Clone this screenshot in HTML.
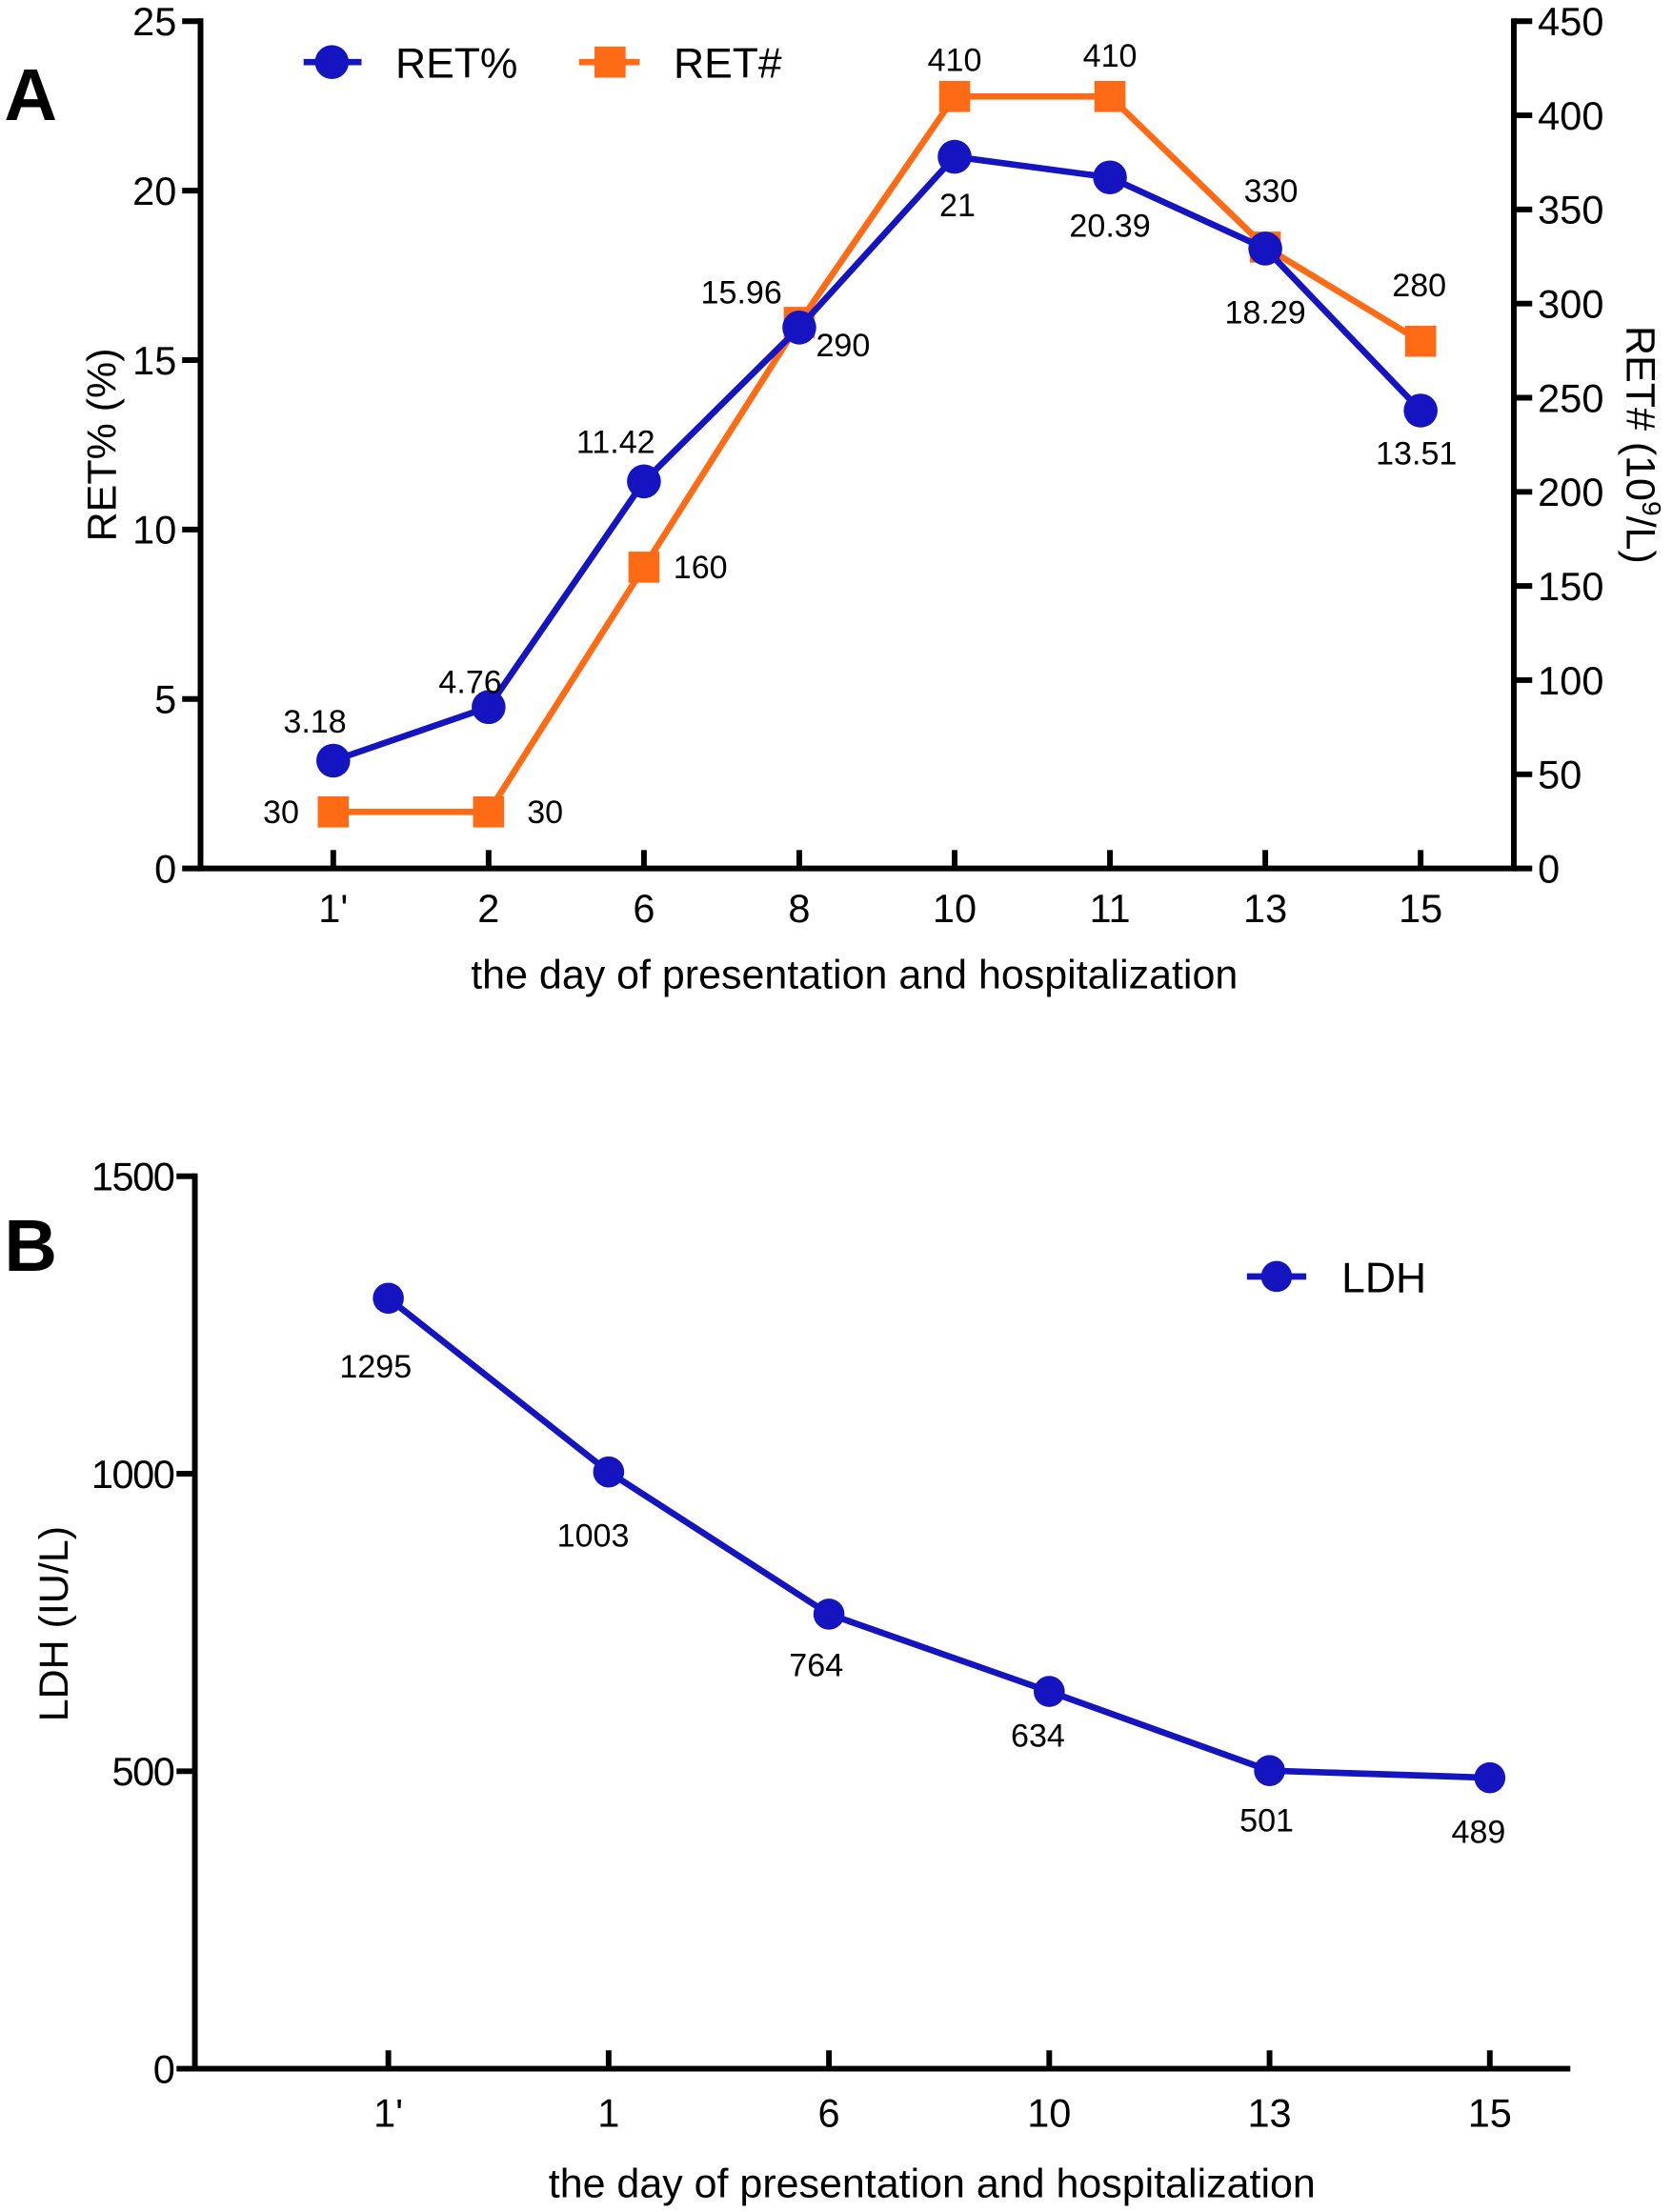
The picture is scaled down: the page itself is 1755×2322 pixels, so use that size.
<!DOCTYPE html>
<html><head><meta charset="utf-8"><style>
html,body{margin:0;padding:0;background:#fff;}
svg{display:block;font-family:"Liberation Sans",Arial,sans-serif;}
</style></head><body>
<svg id="fig" width="1755" height="2322" viewBox="0 0 1184 1566.5" preserveAspectRatio="none" xmlns="http://www.w3.org/2000/svg">
<g id="gA"></g>
<g id="gB"></g>
</svg>
<script>
// Panel A data
const catsA = ["1'", "2", "6", "8", "10", "11", "13", "15"];
const retPct = [3.18, 4.76, 11.42, 15.96, 21, 20.39, 18.29, 13.51];
const retAbs = [30, 30, 160, 290, 410, 410, 330, 280];
const leftTicksA = [0, 5, 10, 15, 20, 25];
const rightTicksA = [0, 50, 100, 150, 200, 250, 300, 350, 400, 450];
// Panel B data
const catsB = ["1'", "1", "6", "10", "13", "15"];
const ldh = [1295, 1003, 764, 634, 501, 489];
const ticksB = [0, 500, 1000, 1500];

const BLUE = "#1414c0", ORANGE = "#ff6a14";
const NS = "http://www.w3.org/2000/svg";
function mk(parent, tag, attrs, text) {
  const e = document.createElementNS(NS, tag);
  for (const k in attrs) e.setAttribute(k, attrs[k]);
  if (text !== undefined) e.textContent = text;
  parent.appendChild(e);
  return e;
}

// ---------- Panel A ----------
(function () {
  const g = document.getElementById('gA');
  const L = 142, R = 1072, Y0 = 615, YT = 15;
  const xA = i => 236 + i * 110;
  const yL = v => Y0 - (v / 25) * (Y0 - YT);
  const yR = v => Y0 - (v / 450) * (Y0 - YT);
  let e;
  e = mk(g, 'text', {x: 3, y: 85, 'font-size': 52, 'font-weight': 'bold'}, 'A');
  
  
  e = mk(g, 'path', {d: `M${L},${YT - 2} V${Y0} H${R} V${YT - 2}`, fill: 'none', stroke: '#000', 'stroke-width': 4});
  
  
  leftTicksA.forEach(v => {
    mk(g, 'line', {x1: L - 13, x2: L, y1: yL(v), y2: yL(v), stroke: '#000', 'stroke-width': 4});
    e = mk(g, 'text', {x: L - 17, y: yL(v) + 10, 'font-size': 28, 'text-anchor': 'end'}, v);
    
    
  });
  rightTicksA.forEach(v => {
    mk(g, 'line', {x1: R, x2: R + 13, y1: yR(v), y2: yR(v), stroke: '#000', 'stroke-width': 4});
    e = mk(g, 'text', {x: R + 17, y: yR(v) + 10, 'font-size': 28}, v);
    
    
  });
  catsA.forEach((c, i) => {
    mk(g, 'line', {x1: xA(i), x2: xA(i), y1: Y0 - 13, y2: Y0, stroke: '#000', 'stroke-width': 4});
    e = mk(g, 'text', {x: xA(i), y: 653, 'font-size': 28, 'text-anchor': 'middle'}, c);
    
    
  });
  e = mk(g, 'text', {x: 605, y: 700, 'font-size': 29, 'text-anchor': 'middle'}, 'the day of presentation and hospitalization');
  
  
  e = mk(g, 'text', {x: 0, y: 0, 'font-size': 29, 'text-anchor': 'middle', transform: 'translate(82,315) rotate(-90)'}, 'RET% (%)');
  
  
  e = mk(g, 'text', {x: 0, y: 0, 'font-size': 29, 'text-anchor': 'middle', transform: 'translate(1152,315) rotate(90)'});
  
  
  e.innerHTML = 'RET# (10<tspan font-size="19" dy="-11">9</tspan><tspan dy="11">/L)</tspan>';
  // orange series
  e = mk(g, 'polyline', {points: retAbs.map((v, i) => xA(i) + ',' + yR(v)).join(' '), fill: 'none', stroke: ORANGE, 'stroke-width': 4.5});
  
  
  retAbs.forEach((v, i) => {
    e = mk(g, 'rect', {x: xA(i) - 11, y: yR(v) - 11, width: 22, height: 22, fill: ORANGE});
    
    
  });
  // blue series
  e = mk(g, 'polyline', {points: retPct.map((v, i) => xA(i) + ',' + yL(v)).join(' '), fill: 'none', stroke: BLUE, 'stroke-width': 4.5});
  
  
  retPct.forEach((v, i) => {
    e = mk(g, 'circle', {cx: xA(i), cy: yL(v), r: 12, fill: BLUE});
    
    
  });
  const pctOff = [[-13, -20], [-13, -10], [-20, -20], [-41, -17], [2, 42], [0, 42], [0, 53], [-3, 38]];
  retPct.forEach((v, i) => {
    e = mk(g, 'text', {x: xA(i) + pctOff[i][0], y: yL(v) + pctOff[i][1], 'font-size': 23, 'text-anchor': 'middle'}, v);
    
    
  });
  const absOff = [[-37, 8], [40, 8], [40, 8], [31, 24], [0, -18], [0, -21], [4, -32], [-1, -32]];
  retAbs.forEach((v, i) => {
    e = mk(g, 'text', {x: xA(i) + absOff[i][0], y: yR(v) + absOff[i][1], 'font-size': 23, 'text-anchor': 'middle'}, v);
    
    
  });
  // legend
  mk(g, 'line', {x1: 215, x2: 256, y1: 44, y2: 44, stroke: BLUE, 'stroke-width': 4.5});
  e = mk(g, 'circle', {cx: 235, cy: 44, r: 12, fill: BLUE});
  
  
  e = mk(g, 'text', {x: 280, y: 55, 'font-size': 30}, 'RET%');
  
  
  mk(g, 'line', {x1: 410, x2: 453, y1: 44, y2: 44, stroke: ORANGE, 'stroke-width': 4.5});
  e = mk(g, 'rect', {x: 421, y: 33, width: 22, height: 22, fill: ORANGE});
  
  
  e = mk(g, 'text', {x: 477, y: 55, 'font-size': 30}, 'RET#');
  
  
})();

// ---------- Panel B ----------
(function () {
  const g = document.getElementById('gB');
  const L = 138, R = 1112, Y0 = 1465, YT = 833;
  const xB = i => 275 + i * 156;
  const yB = v => Y0 - (v / 1500) * (Y0 - YT);
  let e;
  e = mk(g, 'text', {x: 3, y: 900, 'font-size': 52, 'font-weight': 'bold'}, 'B');
  
  
  e = mk(g, 'path', {d: `M${L},${YT - 2} V${Y0} H${R}`, fill: 'none', stroke: '#000', 'stroke-width': 4});
  
  
  ticksB.forEach(v => {
    mk(g, 'line', {x1: L - 13, x2: L, y1: yB(v), y2: yB(v), stroke: '#000', 'stroke-width': 4});
    e = mk(g, 'text', {x: L - 15, y: yB(v) + 10, 'font-size': 28, 'text-anchor': 'end', 'letter-spacing': -1}, v);
    
    
  });
  catsB.forEach((c, i) => {
    mk(g, 'line', {x1: xB(i), x2: xB(i), y1: Y0 - 13, y2: Y0, stroke: '#000', 'stroke-width': 4});
    e = mk(g, 'text', {x: xB(i), y: 1506, 'font-size': 28, 'text-anchor': 'middle'}, c);
    
    
  });
  e = mk(g, 'text', {x: 660, y: 1556, 'font-size': 29, 'text-anchor': 'middle'}, 'the day of presentation and hospitalization');
  
  
  e = mk(g, 'text', {x: 0, y: 0, 'font-size': 29, 'text-anchor': 'middle', transform: 'translate(48,1150) rotate(-90)'}, 'LDH (IU/L)');
  
  
  e = mk(g, 'polyline', {points: ldh.map((v, i) => xB(i) + ',' + yB(v)).join(' '), fill: 'none', stroke: BLUE, 'stroke-width': 4.5});
  
  
  ldh.forEach((v, i) => {
    e = mk(g, 'circle', {cx: xB(i), cy: yB(v), r: 11, fill: BLUE});
    
    
  });
  const off = [[-9, 56], [-11, 53], [-9, 44], [-8, 39], [-2, 43], [-8, 46]];
  ldh.forEach((v, i) => {
    e = mk(g, 'text', {x: xB(i) + off[i][0], y: yB(v) + off[i][1], 'font-size': 23, 'text-anchor': 'middle'}, v);
    
    
  });
  mk(g, 'line', {x1: 883, x2: 925, y1: 904, y2: 904, stroke: BLUE, 'stroke-width': 4.5});
  e = mk(g, 'circle', {cx: 904, cy: 904, r: 11, fill: BLUE});
  
  
  e = mk(g, 'text', {x: 950, y: 915, 'font-size': 30}, 'LDH');
  
  
})();
</script>
</body></html>
